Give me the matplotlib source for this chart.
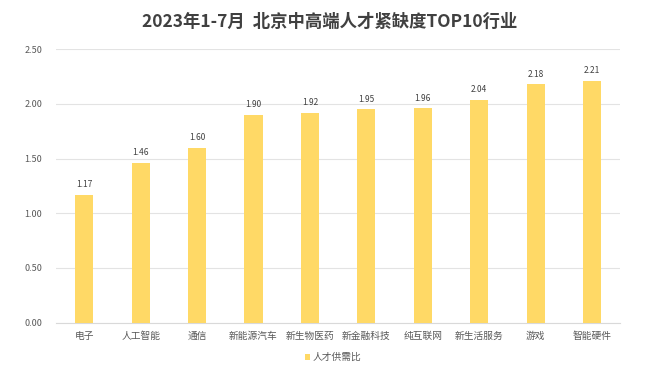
import matplotlib.pyplot as plt
import numpy as np

plt.rcParams['font.family'] = ['Noto Sans CJK SC', 'DejaVu Sans']

# datos
industrias = ['电子', '人工智能', '通信', '新能源汽车', '新生物医药', '新金融科技',
              '纯互联网', '新生活服务', '游戏', '智能硬件']
ratio = [1.17, 1.46, 1.60, 1.90, 1.92, 1.95, 1.96, 2.04, 2.18, 2.21]
yticks = [0.0, 0.5, 1.0, 1.5, 2.0, 2.5]

color_barra = '#FFD966'
gris = '#595959'

fig = plt.figure(figsize=(6.6, 3.7), dpi=100)
ax = fig.add_axes([0.0848, 0.128, 0.855, 0.739])

x = np.arange(len(industrias))
barras = ax.bar(x, ratio, width=0.32, color=color_barra, label='人才供需比', zorder=3)

# etiquetas de valor
for xi, v in zip(x, ratio):
    ax.text(xi, v + 0.05, f'{v:.2f}', ha='center', va='bottom', fontsize=6, color='#404040')

ax.set_xlim(-0.5, len(industrias) - 0.5)
ax.set_ylim(0, 2.5)
ax.set_yticks(yticks)
ax.set_yticklabels([f'{t:.2f}' for t in yticks], fontsize=6.5, color=gris)
ax.set_xticks(x)
ax.set_xticklabels(industrias, fontsize=7, color=gris)
ax.tick_params(axis='x', length=0, pad=6)
ax.tick_params(axis='y', length=0, pad=10)
ax.grid(axis='y', color='#e3e3e3', linewidth=0.8, zorder=0)
for s in ['top', 'right', 'left']:
    ax.spines[s].set_visible(False)
ax.spines['bottom'].set_color('#d9d9d9')

fig.suptitle('2023年1-7月  北京中高端人才紧缺度TOP10行业', fontsize=12.5,
             fontweight='bold', color='#404040', x=0.5, y=0.965)

fig.legend(loc='center', bbox_to_anchor=(0.505, 0.035), frameon=False, fontsize=7,
           handlelength=0.5, handleheight=0.6, handletextpad=0.3,
           labelcolor=gris)

fig.savefig('out.png', dpi=100)
